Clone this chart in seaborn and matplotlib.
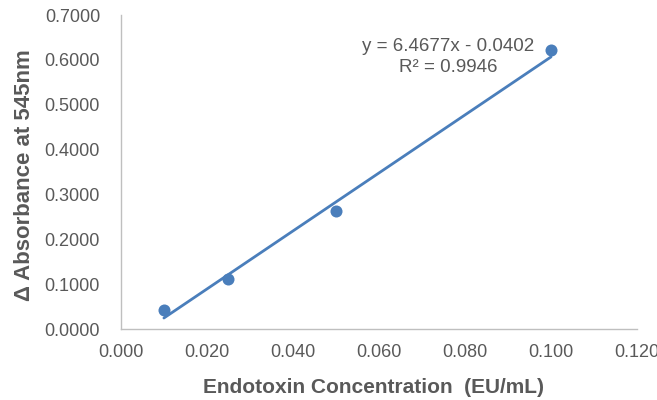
import matplotlib
matplotlib.use("Agg")
import matplotlib.pyplot as plt
import seaborn as sns
import numpy as np
import pandas as pd

concentration = [0.010, 0.025, 0.050, 0.100]
absorbance = [0.042, 0.111, 0.263, 0.621]
slope = 6.4677
intercept = -0.0402
r_squared = 0.9946
x_ticks = [0.000, 0.020, 0.040, 0.060, 0.080, 0.100, 0.120]
y_ticks = [0.0, 0.1, 0.2, 0.3, 0.4, 0.5, 0.6, 0.7]

sns.set_theme(style="white")
plt.rcParams['font.family'] = ['Liberation Sans', 'DejaVu Sans']

df = pd.DataFrame({"x": concentration, "y": absorbance})
fit_x = [min(concentration), max(concentration)]
fit_df = pd.DataFrame({"x": fit_x, "y": [slope * v + intercept for v in fit_x]})

fig = plt.figure(figsize=(6.57, 4.0), dpi=100)
ax = fig.add_axes([0.184, 0.1775, 0.7856, 0.785])

blue = "#4a7ebb"
sns.lineplot(data=fit_df, x="x", y="y", ax=ax, color=blue, linewidth=2)
sns.scatterplot(data=df, x="x", y="y", ax=ax, color=blue, s=75, edgecolor=blue, linewidth=0, zorder=3)

ax.set_xlim(0, 0.12)
ax.set_ylim(0, 0.7)
ax.set_xticks(x_ticks)
ax.set_xticklabels([f"{v:.3f}" for v in x_ticks])
ax.set_yticks(y_ticks)
ax.set_yticklabels([f"{v:.4f}" for v in y_ticks])

gray = "#595959"
ax.tick_params(axis="both", colors=gray, labelsize=13, length=0)
ax.tick_params(axis="y", pad=15)
ax.tick_params(axis="x", pad=11)
for s in ["top", "right"]:
    ax.spines[s].set_visible(False)
for s in ["left", "bottom"]:
    ax.spines[s].set_color("#bfbfbf")
    ax.spines[s].set_linewidth(1)

ax.set_xlabel("Endotoxin Concentration  (EU/mL)", fontsize=15, fontweight="bold", color=gray, va="center")
ax.set_ylabel("Δ Absorbance at 545nm", fontsize=16, fontweight="bold", color=gray, va="center")
ax.xaxis.set_label_coords(0.49, -0.185)
ax.yaxis.set_label_coords(-0.186, 0.49)

ax.text(0.0761, 0.629, f"y = {slope}x - {-intercept:.4f}", ha="center", va="center", fontsize=13.5, color=gray)
ax.text(0.0761, 0.584, f"R² = {r_squared}", ha="center", va="center", fontsize=13.5, color=gray)

fig.savefig("out.png", dpi=100)
